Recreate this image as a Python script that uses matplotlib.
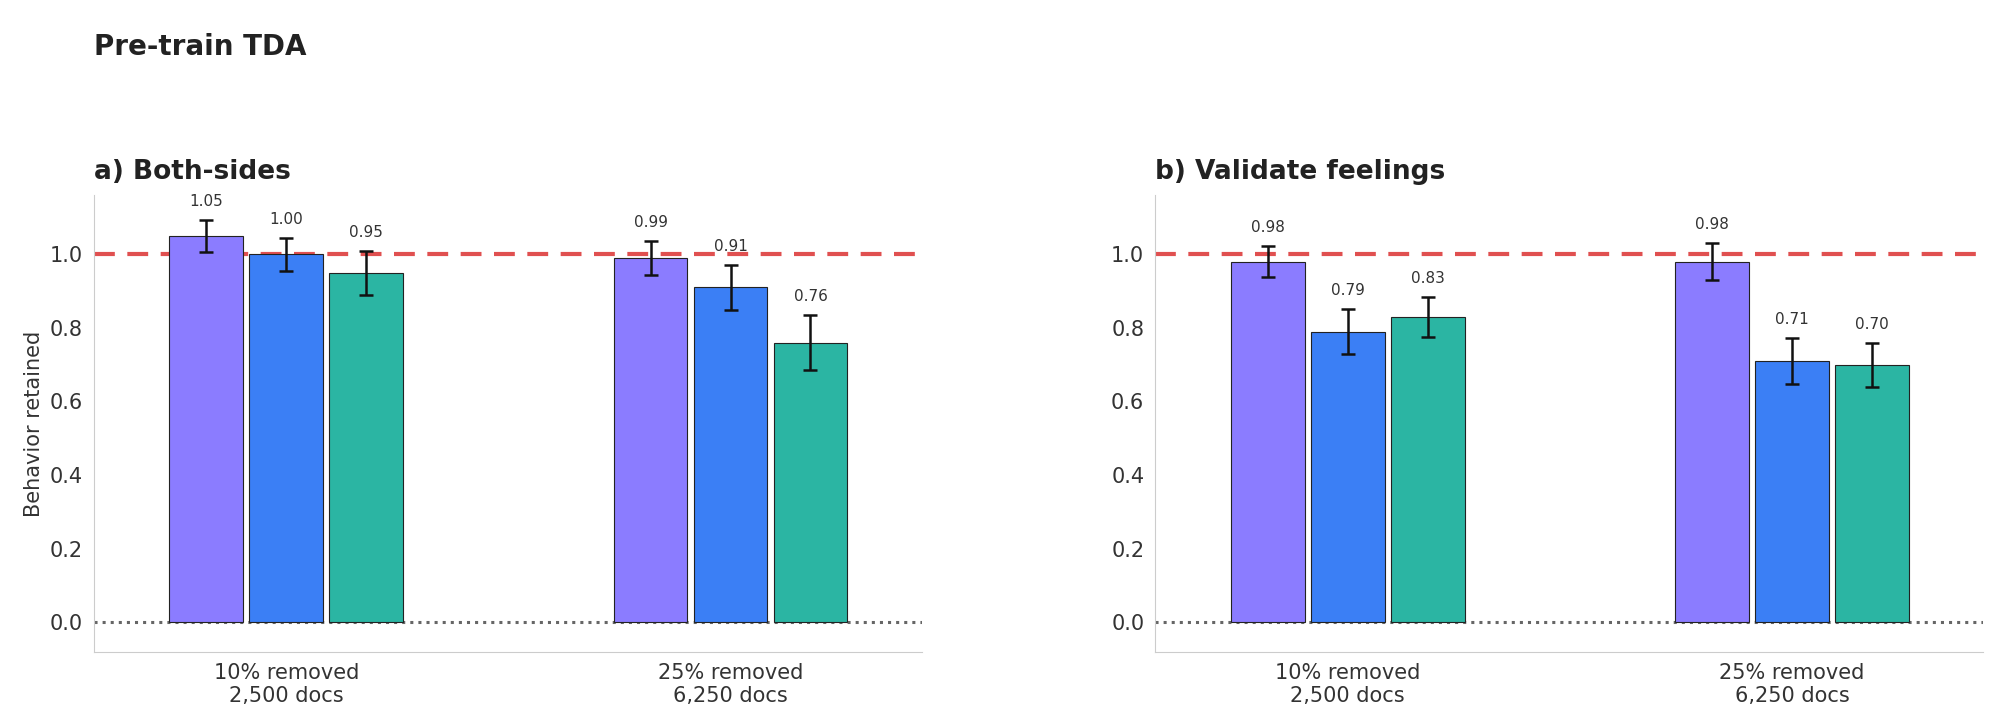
import matplotlib
matplotlib.use("Agg")
import matplotlib.pyplot as plt
import numpy as np

groups = ["10% removed\n2,500 docs", "25% removed\n6,250 docs"]
titles = ["a) Both-sides", "b) Validate feelings"]
values = [[[1.05, 1.00, 0.95], [0.99, 0.91, 0.76]],
          [[0.98, 0.79, 0.83], [0.98, 0.71, 0.70]]]
errors = [[[0.043, 0.045, 0.06], [0.047, 0.062, 0.075]],
          [[0.042, 0.062, 0.055], [0.05, 0.062, 0.06]]]
colors = ["#8B7CFF", "#3B7FF5", "#2BB5A3"]

fig = plt.figure(figsize=(19.99, 7.24), dpi=100)
fig.text(0.047, 0.955, "Pre-train TDA", fontsize=20, fontweight="bold", color="#222222", va="top")
lefts = [0.047, 0.578]
w = 0.414
for p in range(2):
    ax = fig.add_axes([lefts[p], 0.10, w, 0.63])
    bw, off = 0.166, 0.18
    for g in range(2):
        for i in range(3):
            x = g + (i - 1) * off
            v, e = values[p][g][i], errors[p][g][i]
            ax.bar(x, v, bw, color=colors[i], edgecolor="#222222", linewidth=0.8, zorder=2)
            ax.errorbar(x, v, yerr=e, color="#111111", capsize=5, elinewidth=1.8, capthick=1.8, zorder=3)
            ax.text(x, v + e + 0.03, f"{v:.2f}", ha="center", va="bottom", fontsize=11, color="#333333")
    ax.axhline(1.0, color="#E05050", ls=(0, (5, 3)), lw=3, zorder=1)
    ax.axhline(0.0, color="#666666", ls=":", lw=2.2, zorder=1)
    ax.set_xlim(-0.433, 1.43)
    ax.set_ylim(-0.08, 1.16)
    ax.set_xticks([0, 1])
    ax.set_xticklabels(groups, fontsize=15, color="#333333")
    ax.set_yticks([0, 0.2, 0.4, 0.6, 0.8, 1.0])
    ax.set_yticklabels([f"{t:.1f}" for t in [0, 0.2, 0.4, 0.6, 0.8, 1.0]], fontsize=15, color="#333333")
    ax.tick_params(length=0, pad=8)
    for s in ["top", "right"]:
        ax.spines[s].set_visible(False)
    for s in ["left", "bottom"]:
        ax.spines[s].set_color("#CCCCCC")
    ax.set_title(titles[p], loc="left", fontsize=19, fontweight="bold", color="#222222", pad=12)
    if p == 0:
        ax.set_ylabel("Behavior retained", fontsize=15, color="#333333")
fig.savefig("out.png", dpi=100)
